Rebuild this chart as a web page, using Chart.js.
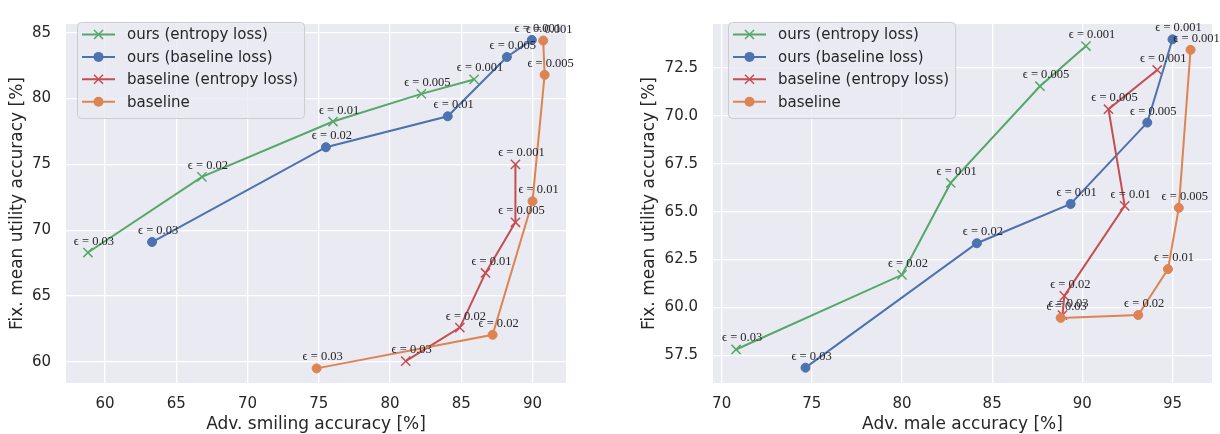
<!DOCTYPE html>
<html>
<head>
<meta charset="utf-8">
<script src="https://cdn.jsdelivr.net/npm/chart.js@4.4.1/dist/chart.umd.min.js"></script>
<style>
  body { margin: 0; background: #fff; }
  #smileChart { position: absolute; left: 0; top: 0; }
  #maleChart { position: absolute; left: 610px; top: 0; }
</style>
</head>
<body>
<canvas id="smileChart" width="600" height="434"></canvas>
<canvas id="maleChart" width="610" height="434"></canvas>
<script>
const seriesNames = ["ours (entropy loss)", "ours (baseline loss)", "baseline (entropy loss)", "baseline"];
const seriesColors = ["#55A868", "#4C72B0", "#C44E52", "#DD8452"];
const seriesMarkers = ["crossRot", "circle", "crossRot", "circle"];
const epsLabels = ["0.03", "0.02", "0.01", "0.005", "0.001"];

// left panel: adversary on "smiling"
const smileOursEntropyX = [58.8, 66.8, 76.0, 82.2, 85.9];
const smileOursEntropyY = [68.3, 74.05, 78.25, 80.35, 81.45];
const smileOursBaselineX = [63.3, 75.5, 84.05, 88.2, 89.95];
const smileOursBaselineY = [69.1, 76.3, 78.65, 83.15, 84.45];
const smileBaseEntropyX = [81.1, 84.9, 86.7, 88.8, 88.8];
const smileBaseEntropyY = [60.05, 62.6, 66.75, 70.6, 75.0];
const smileBaselineX = [74.85, 87.2, 90.0, 90.85, 90.75];
const smileBaselineY = [59.5, 62.05, 72.2, 81.8, 84.4];
const smileXTicks = [60, 65, 70, 75, 80, 85, 90];
const smileYTicks = [60, 65, 70, 75, 80, 85];

// right panel: adversary on "male"
const maleOursEntropyX = [70.8, 80.0, 82.7, 87.65, 90.2];
const maleOursEntropyY = [57.8, 61.7, 66.5, 71.55, 73.65];
const maleOursBaselineX = [74.65, 84.15, 89.35, 93.6, 95.0];
const maleOursBaselineY = [56.85, 63.35, 65.4, 69.65, 74.0];
const maleBaseEntropyX = [88.9, 89.0, 92.35, 91.45, 94.15];
const maleBaseEntropyY = [59.6, 60.6, 65.3, 70.35, 72.4];
const maleBaselineX = [88.8, 93.1, 94.75, 95.35, 96.0];
const maleBaselineY = [59.45, 59.6, 62.0, 65.2, 73.45];
const maleXTicks = [70, 75, 80, 85, 90, 95];
const maleYTicks = [57.5, 60, 62.5, 65, 67.5, 70, 72.5];

const textColor = "#262626";
const tickFont = { family: "DejaVu Sans", size: 15 };
const titleFont = { family: "DejaVu Sans", size: 17 };

const plotBackground = {
  id: "plotBackground",
  beforeDraw(chart) {
    const { ctx, chartArea } = chart;
    ctx.save();
    ctx.fillStyle = "#EAEAF2";
    ctx.fillRect(chartArea.left, chartArea.top, chartArea.right - chartArea.left, chartArea.bottom - chartArea.top);
    ctx.restore();
  },
};

const epsAnnotations = {
  id: "epsAnnotations",
  afterDatasetsDraw(chart) {
    const ctx = chart.ctx;
    ctx.save();
    ctx.font = '12.5px "Liberation Serif", "DejaVu Serif", serif';
    ctx.fillStyle = textColor;
    ctx.textAlign = "center";
    ctx.textBaseline = "alphabetic";
    chart.data.datasets.forEach((ds, i) => {
      chart.getDatasetMeta(i).data.forEach((pt, j) => {
        ctx.fillText("ϵ = " + epsLabels[j], pt.x + 6, pt.y - 8);
      });
    });
    ctx.restore();
  },
};

function drawMarker(ctx, style, x, y) {
  if (style === "circle") {
    ctx.beginPath();
    ctx.arc(x, y, 5, 0, Math.PI * 2);
    ctx.fill();
  } else {
    const d = 4.5;
    ctx.lineWidth = 1.5;
    ctx.beginPath();
    ctx.moveTo(x - d, y - d);
    ctx.lineTo(x + d, y + d);
    ctx.moveTo(x - d, y + d);
    ctx.lineTo(x + d, y - d);
    ctx.stroke();
  }
}

const boxLegend = {
  id: "boxLegend",
  afterDraw(chart, args, opts) {
    const ctx = chart.ctx;
    ctx.save();
    ctx.font = '15px "DejaVu Sans"';
    const textWidth = Math.max(...seriesNames.map((n) => ctx.measureText(n).width));
    const x = opts.x, y = opts.y, w = textWidth + 56, h = 96;
    ctx.beginPath();
    ctx.roundRect(x + 0.5, y + 0.5, w, h, 4);
    ctx.fillStyle = "rgba(234,234,242,0.8)";
    ctx.fill();
    ctx.strokeStyle = "#cccccc";
    ctx.lineWidth = 1;
    ctx.stroke();
    seriesNames.forEach((name, i) => {
      const rowY = y + 12.5 + i * 22.4;
      ctx.strokeStyle = seriesColors[i];
      ctx.fillStyle = seriesColors[i];
      ctx.lineWidth = 2;
      ctx.beginPath();
      ctx.moveTo(x + 5, rowY);
      ctx.lineTo(x + 38, rowY);
      ctx.stroke();
      drawMarker(ctx, seriesMarkers[i], x + 21.5, rowY);
      ctx.fillStyle = textColor;
      ctx.textBaseline = "middle";
      ctx.fillText(name, x + 50, rowY + 1);
    });
    ctx.restore();
  },
};

function toPoints(xs, ys) {
  return xs.map((x, i) => ({ x: x, y: ys[i] }));
}

function makeChart(id, cfg) {
  const datasets = cfg.series.map((s, i) => ({
    label: seriesNames[i],
    data: toPoints(s[0], s[1]),
    showLine: true,
    borderColor: seriesColors[i],
    backgroundColor: seriesColors[i],
    borderWidth: 2,
    pointStyle: seriesMarkers[i],
    pointRadius: seriesMarkers[i] === "circle" ? 4.5 : 6.5,
    pointBorderWidth: seriesMarkers[i] === "circle" ? 1 : 1.5,
    order: 3 - i,
    clip: false,
  }));

  new Chart(document.getElementById(id), {
    type: "scatter",
    data: { datasets: datasets },
    plugins: [plotBackground, epsAnnotations, boxLegend],
    options: {
      responsive: false,
      animation: false,
      layout: { padding: { top: 11, right: cfg.padRight, left: 0, bottom: 0 } },
      scales: {
        x: {
          type: "linear",
          min: cfg.xRange[0],
          max: cfg.xRange[1],
          afterBuildTicks: (scale) => { scale.ticks = cfg.xTicks.map((v) => ({ value: v })); },
          afterFit: (scale) => { scale.height = 51; },
          grid: { color: "#ffffff", lineWidth: 1.3, drawTicks: false },
          border: { display: false },
          ticks: { color: textColor, font: tickFont, padding: 12, maxRotation: 0 },
          title: { display: true, text: cfg.xTitle, color: textColor, font: titleFont, padding: { top: 0, bottom: -1 } },
        },
        y: {
          type: "linear",
          min: cfg.yRange[0],
          max: cfg.yRange[1],
          afterBuildTicks: (scale) => { scale.ticks = cfg.yTicks.map((v) => ({ value: v })); },
          afterFit: (scale) => { scale.width = cfg.yAxisWidth; },
          grid: { color: "#ffffff", lineWidth: 1.3, drawTicks: false },
          border: { display: false },
          ticks: {
            color: textColor,
            font: tickFont,
            padding: 15,
            callback: (v) => (cfg.yDecimals ? Number(v).toFixed(1) : String(v)),
          },
          title: { display: true, text: "Fix. mean utility accuracy [%]", color: textColor, font: titleFont, padding: { top: cfg.yTitlePad, bottom: 0 } },
        },
      },
      plugins: {
        legend: { display: false },
        tooltip: { enabled: false },
        boxLegend: { x: cfg.legendX, y: 22 },
      },
    },
  });
}

makeChart("smileChart", {
  series: [
    [smileOursEntropyX, smileOursEntropyY],
    [smileOursBaselineX, smileOursBaselineY],
    [smileBaseEntropyX, smileBaseEntropyY],
    [smileBaselineX, smileBaselineY],
  ],
  xRange: [57.26, 92.35],
  yRange: [58.39, 85.66],
  xTicks: smileXTicks,
  yTicks: smileYTicks,
  yDecimals: false,
  xTitle: "Adv. smiling accuracy [%]",
  yAxisWidth: 66,
  yTitlePad: 7,
  padRight: 34,
  legendX: 77,
});

makeChart("maleChart", {
  series: [
    [maleOursEntropyX, maleOursEntropyY],
    [maleOursBaselineX, maleOursBaselineY],
    [maleBaseEntropyX, maleBaseEntropyY],
    [maleBaselineX, maleBaselineY],
  ],
  xRange: [69.52, 97.19],
  yRange: [56.05, 74.8],
  xTicks: maleXTicks,
  yTicks: maleYTicks,
  yDecimals: true,
  xTitle: "Adv. male accuracy [%]",
  yAxisWidth: 103,
  yTitlePad: 29.5,
  padRight: 6,
  legendX: 118,
});
</script>
</body>
</html>
